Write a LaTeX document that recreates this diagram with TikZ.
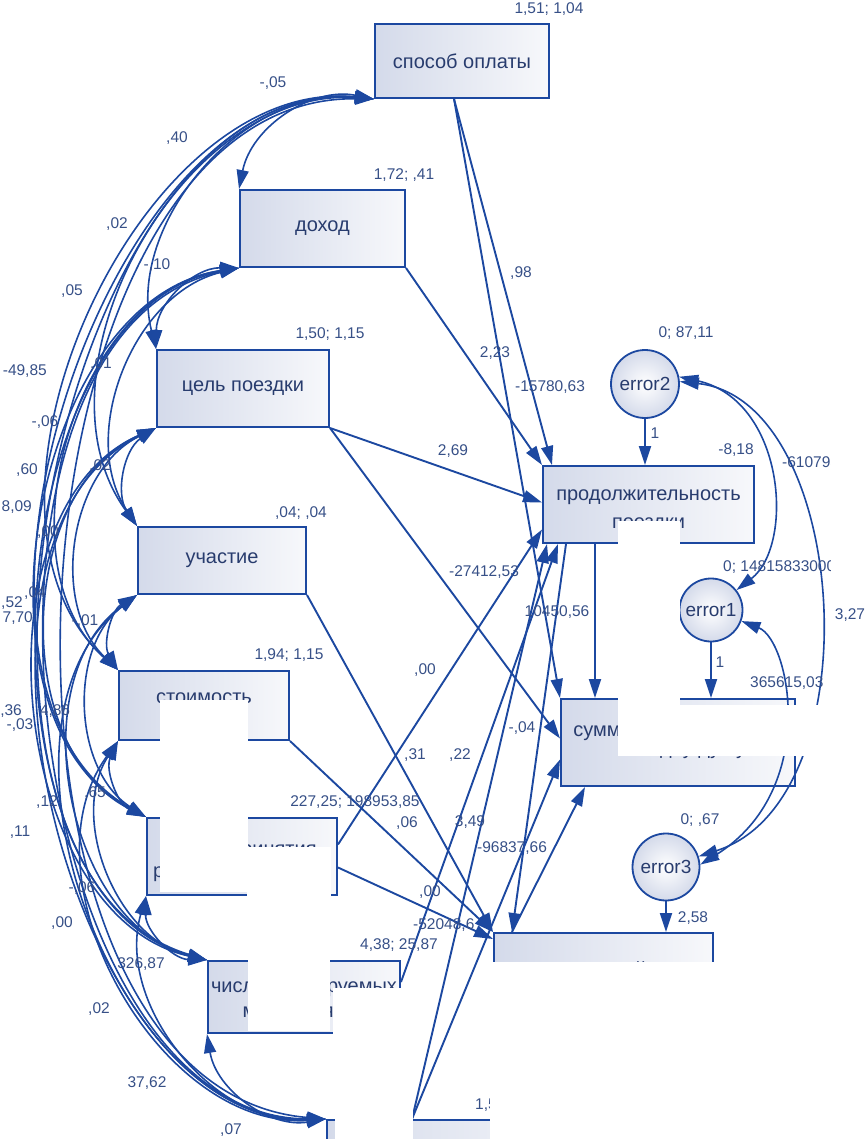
\documentclass[tikz,border=0pt]{standalone}
\usepackage{fontspec}
\setmainfont{Liberation Sans}
\usetikzlibrary{arrows.meta}
\definecolor{ln}{RGB}{28,72,160}
\definecolor{tx}{RGB}{55,80,135}
\definecolor{nt}{RGB}{40,60,110}
\definecolor{bx}{RGB}{212,218,234}
\definecolor{bx2}{RGB}{247,248,251}
\tikzset{
 box/.style={draw=ln, line width=2pt, left color=bx, right color=bx2, text=nt, font=\fontsize{20}{23}\selectfont, align=center, inner sep=0pt},
 btxt/.style={text=nt, font=\fontsize{20}{23}\selectfont, inner sep=0pt, anchor=base},
 err/.style={circle, draw=ln, line width=1.8pt, inner color=white, outer color=bx, text=nt, font=\fontsize{19}{22}\selectfont, inner sep=0pt},
 lab/.style={text=tx, font=\fontsize{15.5}{17}\selectfont, inner sep=0pt},
 pth/.style={draw=ln, line width=1.9pt, -{Triangle[length=19pt,width=12pt]}},
 cov/.style={draw=ln, line width=1.6pt, {Triangle[length=19pt,width=12pt]}-{Triangle[length=19pt,width=12pt]}},
 maskbox/.style={fill=white, draw=none},
}
\newcommand{\cv}[4]{\draw[cov] (#1.south west) to[bend right=#3, looseness=#4] (#2.north west);}
\begin{document}
\begin{tikzpicture}[x=1pt,y=-1pt]
\useasboundingbox (0,0) rectangle (866,1139);
% boxes
\node[box,minimum width=174pt,minimum height=74pt] (SO) at (462,61) {способ оплаты};
\node[box,minimum width=165pt,minimum height=77pt] (DOH) at (322.5,228.5) {доход};
\node[box,minimum width=172pt,minimum height=77pt] (CEL) at (243,388.5) {цель поездки};
\node[box,minimum width=168pt,minimum height=67pt] (UCH) at (222,560.5) {участие};
\node[box,minimum width=170pt,minimum height=69pt] (STO) at (204,705.5) {};
\node[box,minimum width=190pt,minimum height=77pt] (PRI) at (242,856.5) {};
\node[box,minimum width=192pt,minimum height=72pt] (CHI) at (304,997) {};
\node[box,minimum width=273pt,minimum height=60pt] (BOT) at (463.5,1150) {};
\node[box,minimum width=211pt,minimum height=77pt] (PROD) at (648.5,504.5) {};
\node[box,minimum width=234pt,minimum height=87pt] (SUM) at (678,742.5) {};
\node[box,minimum width=219pt,minimum height=67pt] (B3) at (603.5,966.5) {};
% box texts
\node[btxt] (PRODa) at (648.5,500) {продолжительность};
\node[btxt] (PRODb) at (648.5,528) {поездки};
\node[btxt] (STOa) at (204,703) {стоимость};
\node[btxt] (STOb) at (204,727) {поездки};
\node[btxt] (PRIa) at (242,855) {время принятия};
\node[btxt] (PRIb) at (242,877) {решения о поездке};
\node[btxt] (CHIa) at (304,992) {число планируемых};
\node[btxt] (CHIb) at (304,1017) {мероприятий};
\node[btxt] (SUMa) at (678,736) {сумма трат на поездку};
\node[btxt] (SUMb) at (684,754) {на одну душу};
\node[btxt] (B3a) at (603.5,976) {итоговый};
% errors
\node[err,minimum size=68pt] (E2) at (645,384) {error2};
\node[err,minimum size=63pt] (E1) at (711,610) {error1};
\node[err,minimum size=67pt] (E3) at (666,867) {error3};
% covariances among exogenous
\cv{SO}{DOH}{45}{1}
\cv{DOH}{CEL}{45}{1}
\cv{CEL}{UCH}{45}{1}
\cv{UCH}{STO}{45}{1}
\cv{STO}{PRI}{45}{1}
\cv{PRI}{CHI}{45}{1}
\cv{CHI}{BOT}{45}{1}
\cv{SO}{CEL}{55}{1}
\cv{DOH}{UCH}{55}{1}
\cv{CEL}{STO}{55}{1}
\cv{UCH}{PRI}{55}{1}
\cv{STO}{CHI}{55}{1}
\cv{PRI}{BOT}{55}{1}
\cv{SO}{UCH}{65}{1}
\cv{DOH}{STO}{65}{1}
\cv{CEL}{PRI}{65}{1}
\cv{UCH}{CHI}{65}{1}
\cv{STO}{BOT}{65}{1}
\cv{SO}{STO}{72}{0.97}
\cv{DOH}{PRI}{72}{0.97}
\cv{CEL}{CHI}{72}{0.97}
\cv{UCH}{BOT}{72}{0.97}
\cv{SO}{PRI}{78}{0.92}
\cv{DOH}{CHI}{78}{0.92}
\cv{CEL}{BOT}{78}{0.92}
\cv{SO}{CHI}{84}{0.93}
\cv{DOH}{BOT}{84}{0.93}
\cv{SO}{BOT}{88}{0.95}
% regression paths
\draw[pth] ([xshift=80pt]SO.south west) -- ([xshift=10pt]PROD.north west);
\draw[pth] ([xshift=80pt]SO.south west) -- (SUM.north west);
\draw[pth] (DOH.south east) -- (PROD.north west);
\draw[pth] (CEL.south east) -- ([yshift=2pt]PROD.west);
\draw[pth] (CEL.south east) -- ([yshift=4pt]SUM.west);
\draw[pth] (UCH.south east) -- (B3.north west);
\draw[pth] (STO.south east) -- (B3.north west);
\draw[pth] ([yshift=-11pt]PRI.east) -- ([yshift=-7pt]B3.north west);
\draw[pth] ([yshift=12pt]PRI.east) -- ([yshift=-25pt]PROD.west);
\draw[pth] ([yshift=15pt]CHI.east) -- ([xshift=16pt]PROD.south west);
\draw[pth] ([xshift=86pt]BOT.north west) -- ([xshift=5pt]PROD.south west);
\draw[pth] ([xshift=86pt]BOT.north west) -- ([yshift=-17pt]SUM.west);
\draw[pth] ([xshift=-53.5pt]PROD.south) -- ([xshift=-83pt]SUM.north);
\draw[pth] ([xshift=24pt]PROD.south west) -- ([xshift=19pt]B3.north west);
\draw[pth] ([xshift=19pt]B3.north west) -- ([xshift=25pt]SUM.south west);
\draw[pth] (E2) -- (E2 |- PROD.north);
\draw[pth] (E1) -- (E1 |- SUM.north);
\draw[pth] (E3) -- (E3 |- B3.north);
% error covariances
\draw[cov] (E2.12) .. controls (785,400) and (795,545) .. (E1.38);
\draw[cov] (E2.4) .. controls (850,400) and (875,800) .. (E3.18);
\draw[cov] (E1.-20) .. controls (790,640) and (820,790) .. (E3.4);
% variance labels
\node[lab] at (549,9) {1,51; 1,04};
\node[lab] at (404,175) {1,72; ,41};
\node[lab] at (330,334) {1,50; 1,15};
\node[lab] at (301,513) {,04; ,04};
\node[lab] at (289,655) {1,94; 1,15};
\node[lab] at (355,802) {227,25; 198953,85};
\node[lab] at (399,945) {4,38; 25,87};
\node[lab,anchor=west] at (475,1105) {1,50; 1,25};
\node[lab] at (686,333) {0; 87,11};
\node[lab,anchor=west] at (723,567) {0; 14815833000};
\node[lab] at (700,820) {0; ,67};
% path labels
\node[lab] at (521,273) {,98};
\node[lab] at (495,353) {2,23};
\node[lab] at (550,387) {-15780,63};
\node[lab] at (453,451) {2,69};
\node[lab] at (484,572) {-27412,53};
\node[lab] at (557,612) {10450,56};
\node[lab] at (425,670) {,00};
\node[lab] at (415,755) {,31};
\node[lab] at (460,755) {,22};
\node[lab] at (522,728) {-,04};
\node[lab] at (407,823) {,06};
\node[lab] at (470,822) {3,49};
\node[lab] at (512,848) {-96837,66};
\node[lab] at (430,892) {,00};
\node[lab,anchor=west] at (413,925) {-52048,6};
\node[lab] at (655,433) {1};
\node[lab] at (720,662) {1};
\node[lab] at (693,918) {2,58};
\node[lab] at (736,450) {-8,18};
\node[lab,anchor=west] at (782,463) {-610795,12};
\node[lab] at (850,615) {3,27};
\node[lab,anchor=west] at (750,683) {365615,03};
% covariance labels
\node[lab] at (273,83) {-,05};
\node[lab] at (177,138) {,40};
\node[lab] at (117,224) {,02};
\node[lab] at (157,265) {-,10};
\node[lab] at (72,291) {,05};
\node[lab,anchor=east] at (47,371) {-49,85};
\node[lab] at (101,364) {,01};
\node[lab] at (45,422) {-,06};
\node[lab] at (27,470) {,60};
\node[lab,anchor=east] at (32,507) {8,09};
\node[lab] at (100,466) {,02};
\node[lab] at (48,532) {,00};
\node[lab] at (35,593) {,04};
\node[lab,anchor=west] at (1,603) {,52};
\node[lab,anchor=east] at (33,618) {7,70};
\node[lab] at (85,621) {-,01};
\node[lab,anchor=east] at (22,711) {,36};
\node[lab] at (55,711) {4,86};
\node[lab] at (20,725) {-,03};
\node[lab] at (47,802) {,12};
\node[lab] at (95,793) {,65};
\node[lab] at (20,832) {,11};
\node[lab] at (82,888) {-,06};
\node[lab] at (62,923) {,00};
\node[lab] at (141,964) {326,87};
\node[lab] at (99,1009) {,02};
\node[lab] at (147,1083) {37,62};
\node[lab] at (231,1130) {,07};
% masked regions of the original picture
\fill[maskbox] (160,700) rectangle (248,892);
\fill[maskbox] (247,847) rectangle (331,898);
\fill[maskbox] (248,955) rectangle (330,1031);
\fill[maskbox] (333,988) rectangle (405,1040);
\fill[maskbox] (335,1108) rectangle (413,1139);
\fill[maskbox] (490,962) rectangle (866,1139);
\fill[maskbox] (618,521) rectangle (680,705);
\fill[maskbox] (618,705) rectangle (866,756);
\fill[maskbox] (831,450) rectangle (866,476);
\fill[maskbox] (831,554) rectangle (866,580);
\fill[maskbox] (823,672) rectangle (866,700);
\end{tikzpicture}
\end{document}
